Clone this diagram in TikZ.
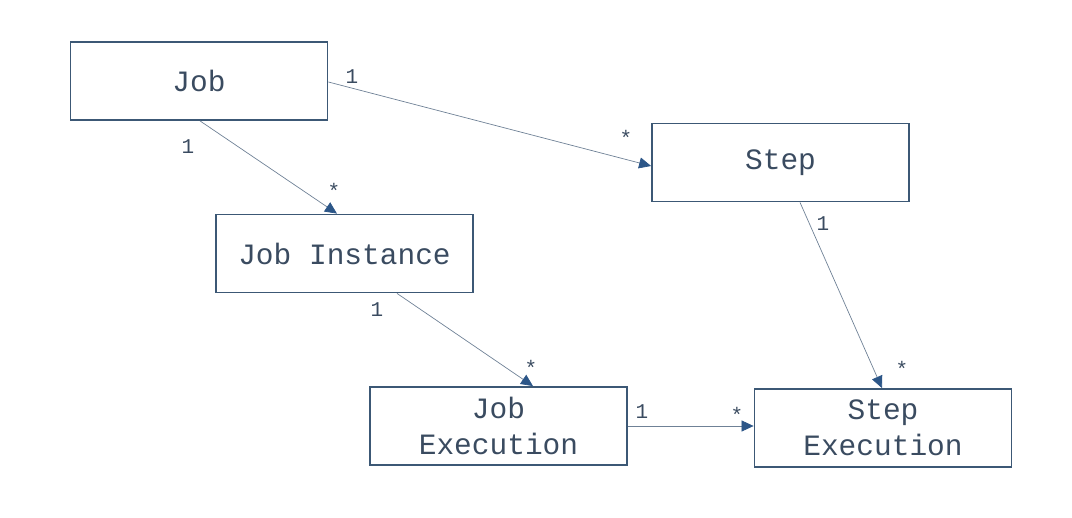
\documentclass[tikz,border=0pt]{standalone}
\usepackage{fontspec}
\setmainfont{Liberation Mono}
\usetikzlibrary{arrows.meta}
\definecolor{boxc}{HTML}{3C5875}
\definecolor{txtc}{HTML}{3A4B60}
\definecolor{linec}{HTML}{6F8196}
\definecolor{tipc}{HTML}{2C5688}
\begin{document}
\begin{tikzpicture}[x=1pt,y=-1pt,
  ent/.style={draw=boxc,line width=1.8pt,minimum width=257pt,minimum height=78pt,
    inner sep=0pt,text=txtc,font=\fontsize{29.5}{36}\selectfont,align=center},
  conn/.style={draw=linec,line width=0.7pt,-{Triangle[length=12pt,width=11pt,fill=tipc,color=tipc]}},
  mult/.style={text=txtc,font=\fontsize{21}{24}\selectfont,inner sep=0pt}]
\useasboundingbox (0,0) rectangle (1072,518);
\node[ent] (job) at (199,81) {Job};
\node[ent] (step) at (780.5,162.5) {Step};
\node[ent] (ji) at (344.5,253.5) {Job Instance};
\node[ent] (je) at (498.5,426) {Job\\Execution};
\node[ent] (se) at (883,428) {Step\\Execution};
\coordinate (a1) at (328,82);
\coordinate (a2) at (652,166);
\draw[conn] (job.east |- a1) -- (step.west |- a2);
\draw[conn] (job.south -| 200,0) -- (ji.north -| 337,0);
\draw[conn] (ji.south -| 397,0) -- (je.north -| 533,0);
\draw[conn] (je.east |- 0,426) -- (se.west |- 0,426);
\draw[conn] (step.south -| 800,0) -- (se.north -| 882,0);
\node[mult] (m1) at (352,77) {1};
\node[mult] (m2) at (626,138) {*};
\node[mult] (m3) at (188,147) {1};
\node[mult] (m4) at (334,191) {*};
\node[mult] (m5) at (377,310) {1};
\node[mult] (m6) at (531,368) {*};
\node[mult] (m7) at (642,412) {1};
\node[mult] (m8) at (737,415) {*};
\node[mult] (m9) at (823,224) {1};
\node[mult] (m10) at (902,369) {*};
\end{tikzpicture}
\end{document}
